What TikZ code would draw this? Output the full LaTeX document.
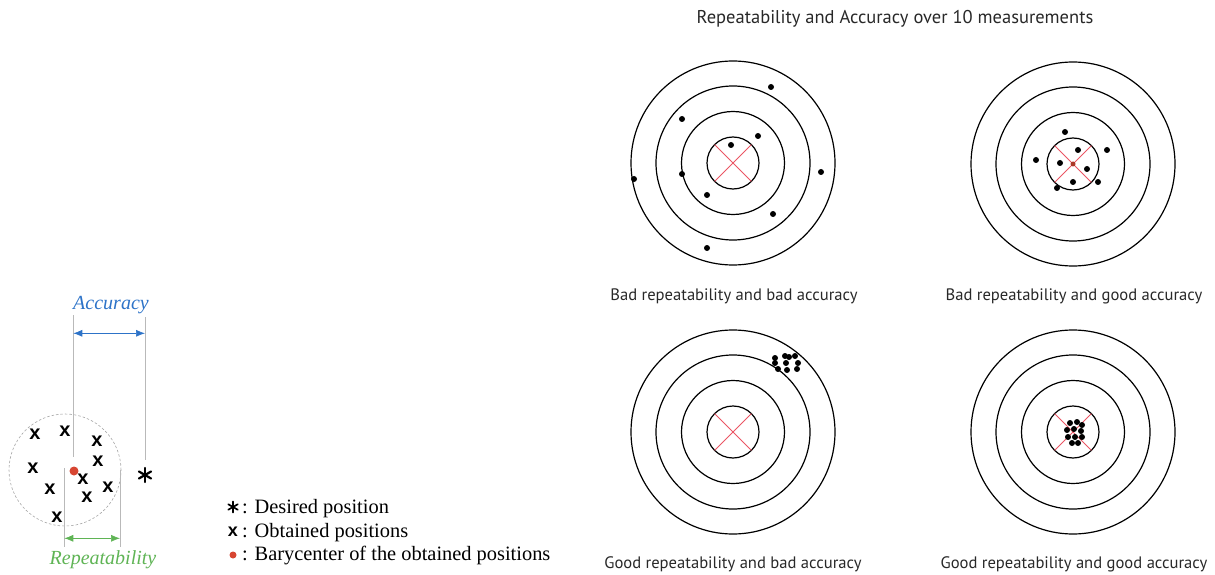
\documentclass[tikz,border=0pt]{standalone}
\usepackage{fontspec}
\setmainfont{Liberation Serif}
\newfontfamily\capfont{PT Sans}
\newfontfamily\markfont{Liberation Sans}
\usetikzlibrary{arrows.meta,positioning}

\definecolor{accblue}{RGB}{45,115,200}
\definecolor{repgreen}{RGB}{95,180,85}
\definecolor{barred}{RGB}{215,70,50}
\definecolor{crossred}{RGB}{235,85,100}
\definecolor{capgray}{RGB}{40,40,40}

\tikzset{
  ring/.style={line width=1.2pt},
  aim/.style={crossred, line width=0.9pt},
  guide/.style={gray!55, line width=0.6pt},
  captxt/.style={font=\capfont\fontsize{16.6}{18}\selectfont, text=capgray, inner sep=0pt},
  dimtxt/.style={font=\itshape\fontsize{20}{21}\selectfont, inner sep=0pt},
  legtxt/.style={font=\fontsize{20.4}{22}\selectfont, anchor=base west, inner sep=0pt},
  obt/.style={font=\markfont\bfseries\fontsize{20}{20}\selectfont, inner sep=0pt},
  bary/.style={circle, fill=barred, inner sep=0pt, minimum size=9pt},
  astr/.pic={\foreach \a in {90,30,150} \draw[line cap=round] (\a:#1) -- (\a+180:#1);}
}

\begin{document}
\begin{tikzpicture}[x=1pt, y=1pt]
  \useasboundingbox (0,0) rectangle (1215,574);

  % Title
  \node[captxt, font=\capfont\fontsize{18.5}{20}\selectfont] (ttl) at (895,555) {Repeatability and Accuracy over 10 measurements};

  % Targets
  \coordinate (tBB) at (733,411);
  \coordinate (tBG) at (1073,410);
  \coordinate (tGB) at (733,142);
  \coordinate (tGG) at (1073,142);
  \foreach \t in {tBB,tBG,tGB,tGG} {
    \foreach \r in {26,51.5,77,102}
      \draw[ring] (\t) circle (\r);
    \draw[aim] (\t) ++(-18.4,-18.4) -- ++(36.8,36.8);
    \draw[aim] (\t) ++(-18.4,18.4) -- ++(36.8,-36.8);
  }

  % Hits: bad repeatability, bad accuracy
  \begin{scope}[shift={(tBB)}]
    \foreach \p in {(38,76),(-51,44),(25,27),(-2,18),(88,-9),(-99,-16),(-51,-11),(-26,-32),(40,-51),(-26,-85)}
      \fill \p circle (3);
  \end{scope}
  % Hits: bad repeatability, good accuracy
  \begin{scope}[shift={(tBG)}]
    \foreach \p in {(-8,32),(5,14),(34,14),(-37,4),(-13,1),(14,-5),(25,-18),(0,-18),(-16,-24)}
      \fill \p circle (3);
    \fill[barred!80!black] (0,0) circle (2.5);
  \end{scope}
  % Hits: good repeatability, bad accuracy
  \begin{scope}[shift={(tGB)}]
    \foreach \p in {(42,74),(42,69),(52,76),(56,75),(62,76),(65,69),(64,63),(54,62),(45,63),(53,69)}
      \fill \p circle (3);
  \end{scope}
  % Hits: good repeatability, good accuracy
  \begin{scope}[shift={(tGG)}]
    \foreach \p in {(-3,9),(4,10),(9,7),(-6,2),(1,3),(8,1),(-5,-5),(2,-5),(9,-5),(-1,-11),(5,-11)}
      \fill \p circle (3);
  \end{scope}

  % Captions
  \node[captxt] (lBB) at (734,278) {Bad repeatability and bad accuracy};
  \node[captxt] (lBG) at (1074,278) {Bad repeatability and good accuracy};
  \node[captxt] (lGB) at (733,10) {Good repeatability and bad accuracy};
  \node[captxt] (lGG) at (1074,10) {Good repeatability and good accuracy};

  % Scatter of obtained positions
  \draw[gray!70, line width=0.6pt, dash pattern=on 2.5pt off 2pt] (65,104) circle (56);
  \foreach \q [count=\i] in {(35,140),(65,143),(97,133),(98,113),(33,106),(83,95),(50,85),(108,87),(87,77),(57,57)}
    \node[obt] (x\i) at \q {x};
  \node[bary] (bc) at (74,103) {};
  \coordinate (dp) at (145,99);
  \pic[line width=2.2pt] at (dp) {astr=7};

  % Accuracy
  \coordinate (accL) at (73.3,259);
  \coordinate (accR) at (145,257);
  \draw[guide] (accL) -- (73.3,117);
  \draw[guide] (accR) -- (145,114);
  \draw[accblue, line width=0.7pt, {Latex[length=9pt,width=7pt]}-{Latex[length=9pt,width=7pt]}] (73.3,240.7) -- (145,240.7);
  \node[dimtxt, text=accblue] (acc) at (111,269) {Accuracy};

  % Repeatability
  \coordinate (repL) at (64.3,27);
  \coordinate (repR) at (120,27);
  \draw[guide] (64.3,106) -- (repL);
  \draw[guide] (120,104) -- (repR);
  \draw[repgreen, line width=0.7pt, {Latex[length=9pt,width=7pt]}-{Latex[length=9pt,width=7pt]}] (64.3,35.7) -- (120,35.7);
  \node[dimtxt, text=repgreen] (rep) at (103,14) {Repeatability};

  % Legend
  \node[legtxt] (ldp) at (242,61) {: Desired position};
  \node[legtxt] (lob) at (242,37) {: Obtained positions};
  \node[legtxt] (lbc) at (242,14) {: Barycenter of the obtained positions};
  \pic[line width=1.7pt] at (233,67) {astr=5.5};
  \node[obt, font=\markfont\bfseries\fontsize{18}{18}\selectfont] (lx) at (233,42) {x};
  \node[bary, minimum size=7pt] (lbd) at (233,19) {};
\end{tikzpicture}
\end{document}
